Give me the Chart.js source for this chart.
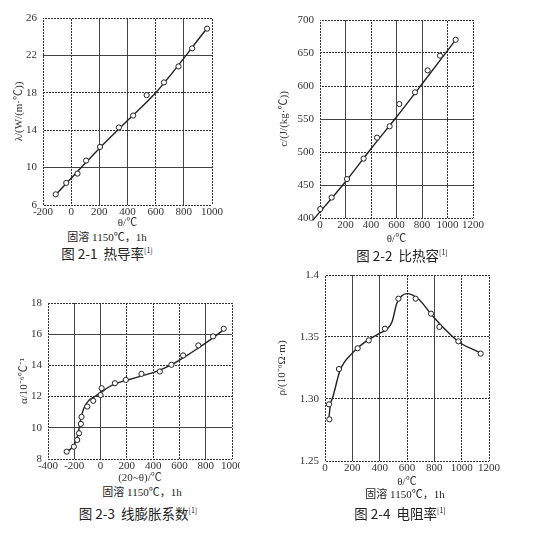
<!DOCTYPE html>
<html lang="zh">
<head>
<meta charset="UTF-8">
<script src="https://cdn.jsdelivr.net/npm/chart.js@4.4.1/dist/chart.umd.min.js"></script>
<style>
    body { margin: 0; background: #fff; width: 536px; height: 542px; position: relative; overflow: hidden;
           font-family: "Noto Sans CJK SC", sans-serif; color: #222; }
    .box { position: absolute; overflow: hidden; }
    .cap, .sub { position: absolute; white-space: nowrap; transform: translateX(-50%); line-height: 1; }
    .cap { font-size: 13.5px; }
    .sub { font-size: 11px; font-family: "Liberation Serif", "Noto Sans CJK SC", serif; }
    sup { font-size: 7px; vertical-align: 6px; }
</style>
</head>
<body>
<div class="box" style="left:0;top:0;width:230px;height:230px"><canvas id="c1" width="230" height="230"></canvas></div>
<div class="box" style="left:270px;top:0;width:266px;height:246px"><canvas id="c2" width="266" height="246"></canvas></div>
<div class="box" style="left:0;top:285px;width:240px;height:200px"><canvas id="c3" width="268" height="200"></canvas></div>
<div class="box" style="left:270px;top:262px;width:266px;height:227px"><canvas id="c4" width="266" height="227"></canvas></div>

<div class="sub" style="left:107px;top:232px">固溶 1150℃，1h</div>
<div class="cap" style="left:107px;top:247px">图 2-1&nbsp; 热导率<sup>[1]</sup></div>
<div class="cap" style="left:402px;top:249px">图 2-2&nbsp; 比热容<sup>[1]</sup></div>
<div class="sub" style="left:142px;top:487px">固溶 1150℃，1h</div>
<div class="cap" style="left:138px;top:507px">图 2-3&nbsp; 线膨胀系数<sup>[1]</sup></div>
<div class="sub" style="left:405px;top:489px">固溶 1150℃，1h</div>
<div class="cap" style="left:400px;top:507px">图 2-4&nbsp; 电阻率<sup>[1]</sup></div>

<script>
// 图 2-1 热导率
const p1Temp = [-110, -35, 45, 106, 205, 339, 440, 536, 659, 762, 859, 965];
const p1Lambda = [7.14, 8.36, 9.36, 10.75, 12.21, 14.29, 15.57, 17.75, 19.11, 20.82, 22.75, 24.86];
const p1FitTemp = [-110, 200, 400, 600, 965];
const p1FitLambda = [7.1, 12.05, 15.03, 18.0, 24.9];
const p1XTicks = [-200, 0, 200, 400, 600, 800, 1000];
const p1YTicks = [6, 10, 14, 18, 22, 26];

// 图 2-2 比热容
const p2Temp = [-45, 2, 91, 212, 342, 447, 546, 622, 745, 844, 941, 1064];
const p2Cp = [398.5, 413.6, 431, 459, 490, 521.7, 538.9, 572.7, 590.4, 623.7, 646, 670];
const p2FitTemp = [-55, 200, 400, 600, 800, 1064];
const p2FitCp = [397, 455, 505, 553, 603, 670];
const p2XTicks = [0, 200, 400, 600, 800, 1000, 1200];
const p2YTicks = [400, 450, 500, 550, 600, 650, 700];

// 图 2-3 线膨胀系数
const p3Temp = [-258, -203, -178, -164, -150, -145, -101, -56, 0, 8, 109, 192, 311, 451, 539, 628, 744, 856, 937];
const p3Alpha = [8.47, 8.79, 9.22, 9.65, 10.25, 10.7, 11.36, 11.73, 12.1, 12.54, 12.86, 13.07, 13.46, 13.61, 14.04, 14.64, 15.28, 15.86, 16.35];
const p3FitTemp = [-265, -215, -185, -165, -150, -125, -90, -45, 0, 60, 120, 200, 300, 420, 530, 640, 750, 860, 940];
const p3FitAlpha = [8.4, 8.75, 9.2, 9.9, 10.6, 11.3, 11.75, 12.0, 12.25, 12.6, 12.85, 13.05, 13.3, 13.6, 14.0, 14.55, 15.15, 15.8, 16.3];
const p3XTicks = [-400, -200, 0, 200, 400, 600, 800, 1000];
const p3YTicks = [8, 10, 12, 14, 16, 18];

// 图 2-4 电阻率
const p4Temp = [32, 29, 102, 239, 320, 439, 537, 663, 776, 837, 976, 1139];
const p4Rho = [1.2836, 1.2957, 1.3242, 1.3409, 1.3473, 1.3567, 1.3809, 1.3809, 1.3688, 1.3581, 1.3465, 1.3366];
const p4FitTemp = [29, 40, 56, 110, 200, 300, 400, 450, 490, 525, 560, 600, 680, 780, 880, 980, 1140];
const p4FitRho = [1.285, 1.296, 1.301, 1.323, 1.337, 1.3465, 1.353, 1.356, 1.362, 1.377, 1.383, 1.385, 1.381, 1.368, 1.356, 1.346, 1.337];
const p4XTicks = [0, 200, 400, 600, 800, 1000, 1200];
const p4YTicks = [1.25, 1.30, 1.35, 1.40];
const p4YLabels = ['1.25', '1.30', '1.35', '1.4'];

const tickFont = { family: 'Liberation Serif', size: 11 };
const titleFont = { family: 'Liberation Serif, Noto Sans CJK SC', size: 11 };

// dotted grid lines: a small diagonal pattern used as stroke colour (2 on, 1 off)
const pc = document.createElement('canvas');
pc.width = 3; pc.height = 3;
const pg = pc.getContext('2d');
pg.fillStyle = '#333';
for (let i = 0; i < 3; i++) {
    for (let j = 0; j < 3; j++) {
        if ((i + j) % 3 !== 2) pg.fillRect(i, j, 1, 1);
    }
}
const dotted = document.getElementById('c1').getContext('2d').createPattern(pc, 'repeat');

function pairs(xs, ys) {
    return xs.map((x, i) => ({ x: x, y: ys[i] }));
}

function axis(ticks, labels, dots, title, fitSize, isX, pad) {
    return {
        type: 'linear',
        min: ticks[0],
        max: ticks[ticks.length - 1],
        afterBuildTicks: s => { s.ticks = ticks.map(v => ({ value: v })); },
        afterFit: s => { if (isX) s.height = fitSize; else s.width = fitSize; },
        ticks: {
            font: tickFont, color: '#333', padding: pad, autoSkip: false, maxRotation: 0,
            callback: (v, i) => labels ? labels[i] : String(v)
        },
        grid: {
            color: c => (c.tick && dots.includes(c.tick.value)) ? dotted : '#444',
            lineWidth: 1, drawTicks: false
        },
        border: { display: false },
        title: { display: true, text: title, font: titleFont, color: '#333', padding: 0 }
    };
}

function panel(id, o) {
    new Chart(document.getElementById(id), {
        type: 'scatter',
        data: {
            datasets: [
                { data: pairs(o.fx, o.fy), showLine: true, pointRadius: 0, borderColor: '#222',
                  borderWidth: 1.4, cubicInterpolationMode: 'monotone', order: 2 },
                { data: pairs(o.px, o.py), showLine: false, pointRadius: 2.6, pointBackgroundColor: '#fff',
                  pointBorderColor: '#222', pointBorderWidth: 1, order: 1 }
            ]
        },
        options: {
            responsive: false,
            animation: false,
            clip: false,
            layout: { padding: o.pad },
            plugins: { legend: { display: false }, tooltip: { enabled: false } },
            scales: {
                x: axis(o.xt, null, o.xDot, o.xTitle, o.xh, true, 1),
                y: axis(o.yt, o.yl, o.yDot, o.yTitle, o.yw, false, 6)
            }
        }
    });
}

panel('c1', {
    px: p1Temp, py: p1Lambda, fx: p1FitTemp, fy: p1FitLambda,
    xt: p1XTicks, yt: p1YTicks, xDot: [-200, 0, 600, 1000], yDot: [6, 14, 18, 26],
    xTitle: 'θ/℃', yTitle: 'λ/(W/(m·℃))',
    pad: { left: 13, top: 18, right: 18, bottom: 0 }, yw: 30, xh: 25
});
panel('c2', {
    px: p2Temp, py: p2Cp, fx: p2FitTemp, fy: p2FitCp,
    xt: p2XTicks, yt: p2YTicks, xDot: [0, 400, 1000, 1200], yDot: [400, 500, 600, 650, 700],
    xTitle: 'θ/℃', yTitle: 'c/(J/(kg·℃))',
    pad: { left: 8, top: 20, right: 63, bottom: 0 }, yw: 42, xh: 28
});
panel('c3', {
    px: p3Temp, py: p3Alpha, fx: p3FitTemp, fy: p3FitAlpha,
    xt: p3XTicks, yt: p3YTicks, xDot: [-400, 200, 400, 600, 1000], yDot: [8, 12, 14, 18],
    xTitle: '(20~θ)/℃', yTitle: 'α/10⁻⁶℃⁻¹',
    pad: { left: 18, top: 18, right: 36, bottom: 0 }, yw: 30, xh: 26
});
panel('c4', {
    px: p4Temp, py: p4Rho, fx: p4FitTemp, fy: p4FitRho,
    xt: p4XTicks, yt: p4YTicks, yl: p4YLabels, xDot: [0, 600, 1000, 1200], yDot: [1.25, 1.3, 1.35, 1.4],
    xTitle: 'θ/℃', yTitle: 'ρ/(10⁻⁶Ω·m)',
    pad: { left: 6, top: 13, right: 47, bottom: 0 }, yw: 49, xh: 28
});
</script>
</body>
</html>
